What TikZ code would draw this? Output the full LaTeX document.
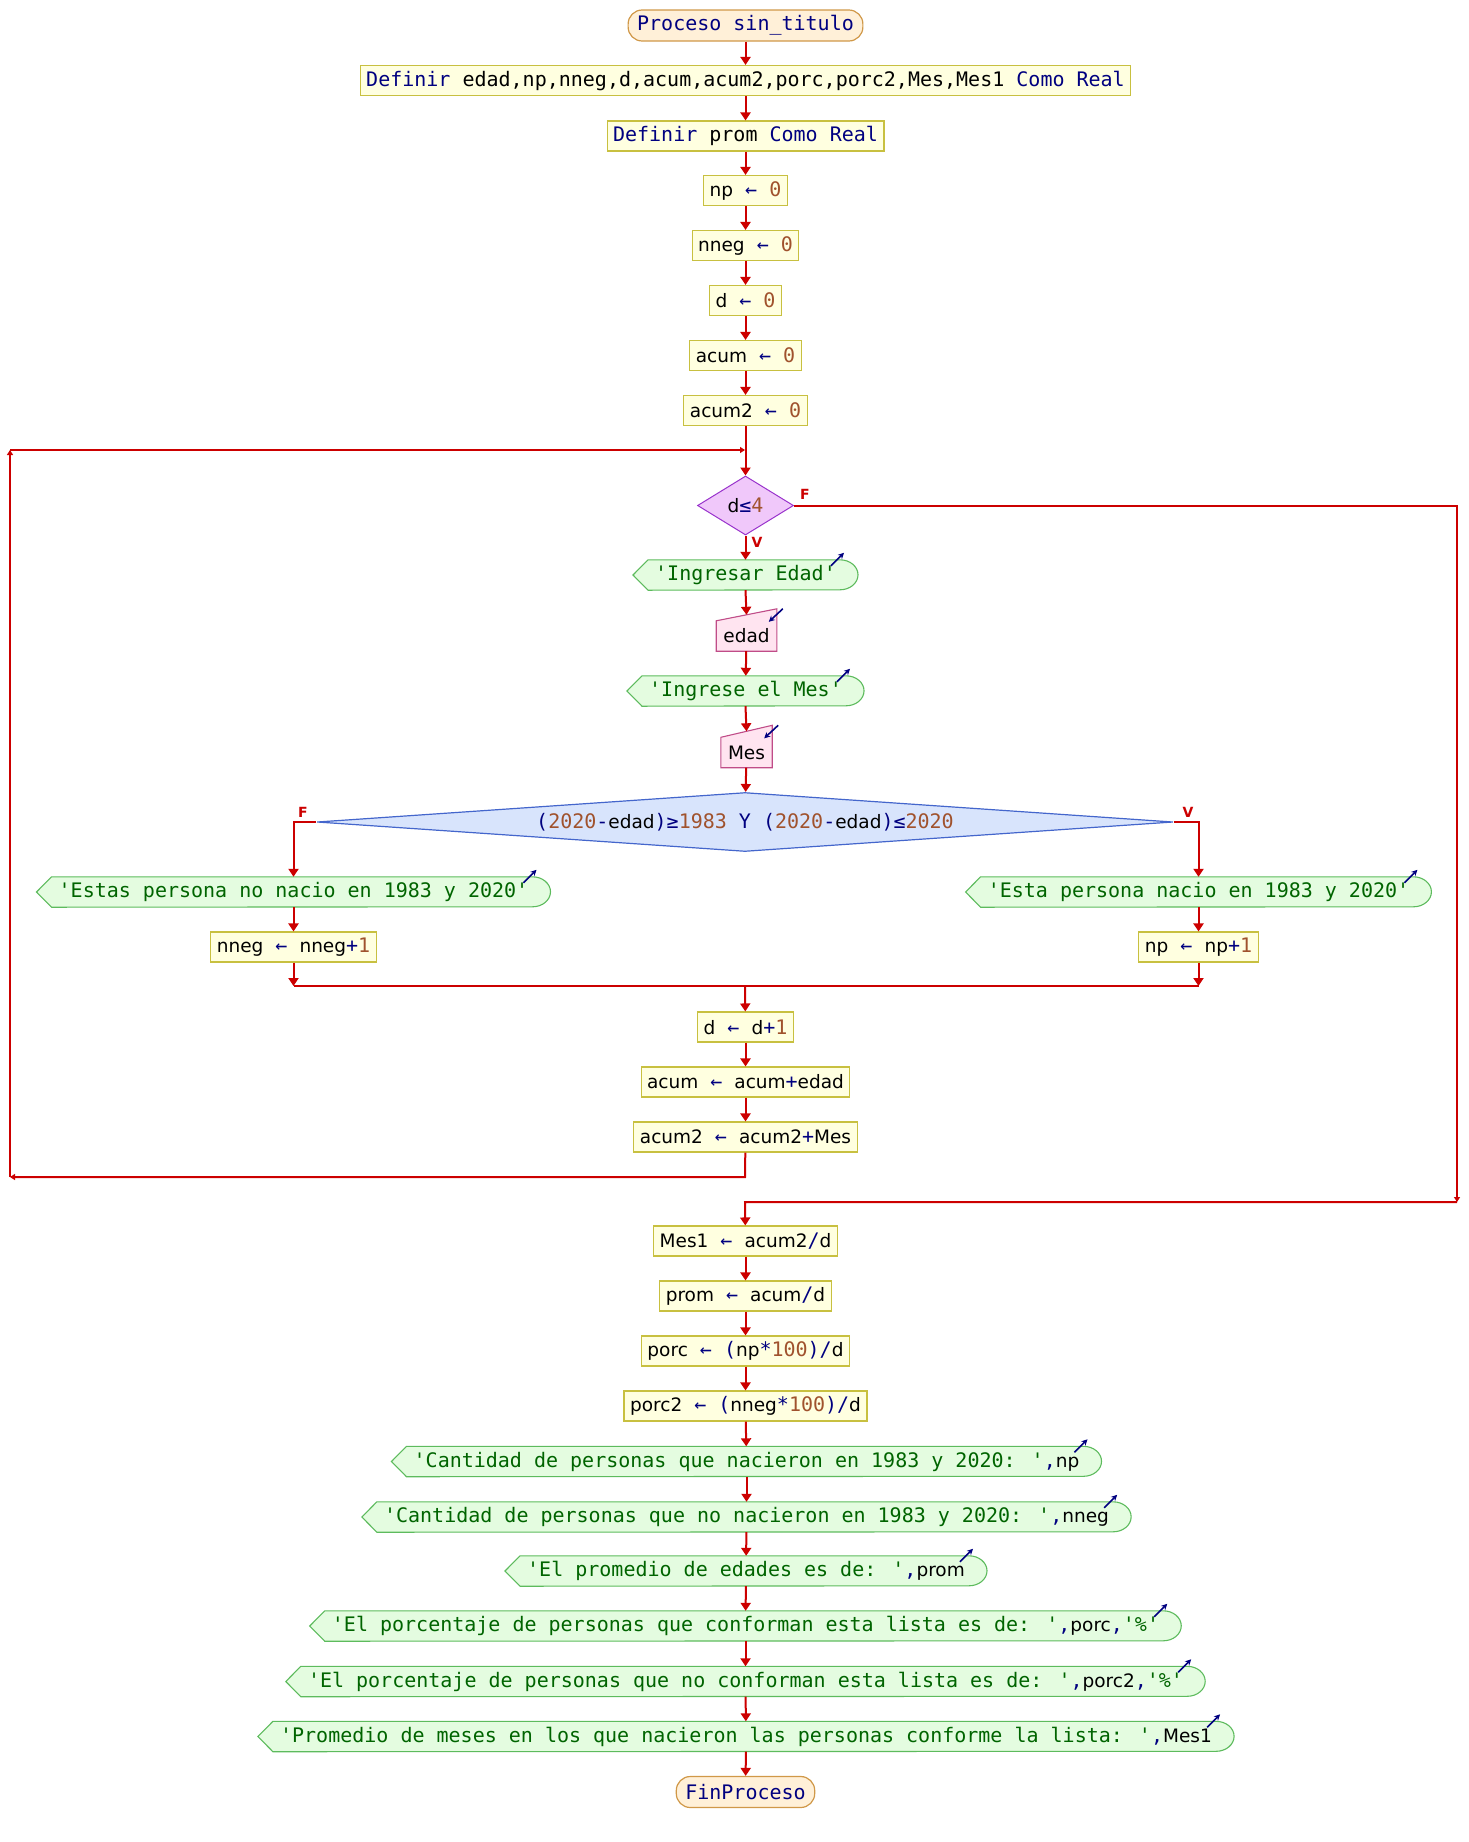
\documentclass[tikz,border=0pt]{standalone}
\usepackage{fontspec}
\usetikzlibrary{shapes.geometric,arrows.meta,backgrounds}
\newfontfamily\monof{DejaVu Sans Mono}[Ligatures=TeXOff]
\newfontfamily\idf{DejaVu Sans}[Ligatures=TeXOff]
\newfontfamily\lblf{DejaVu Sans}

\definecolor{procfill}{HTML}{FFFFE0}
\definecolor{procdraw}{HTML}{C8C040}
\definecolor{termfill}{HTML}{FFF0D8}
\definecolor{termdraw}{HTML}{D09848}
\definecolor{arrowred}{HTML}{CC0000}
\definecolor{diaAfill}{HTML}{F0C8FA}
\definecolor{diaAdraw}{HTML}{9933CC}
\definecolor{diaBfill}{HTML}{D8E4FC}
\definecolor{diaBdraw}{HTML}{4466CC}
\definecolor{outfill}{HTML}{E4FCE0}
\definecolor{outdraw}{HTML}{5DBB5D}
\definecolor{infill}{HTML}{FFE4F0}
\definecolor{indraw}{HTML}{C04C88}
\definecolor{kwc}{HTML}{000080}
\definecolor{numc}{HTML}{A0522D}
\definecolor{strc}{HTML}{006400}

% token colouring
\newcommand\txkw[1]{{\monof\color{kwc}#1}}
\newcommand\txid[1]{{\idf\fontsize{18.5}{24}\selectfont\color{black}#1}}
\newcommand\txnum[1]{{\monof\color{numc}#1}}
\newcommand\txstr[1]{{\monof\color{strc}#1}}
\newcommand\txpl[1]{{\monof\color{black}#1}}

% output block: arrow-pointed left side, rounded right side
\newcommand\outnode[3]{%
  \node[outtxt] (#1) at (#2) {#3};
  \begin{scope}[on background layer]
    \path[outshape] (#1.west) -- ([xshift=15pt]#1.north west) -- ([xshift=-18pt]#1.north east)
      arc[start angle=90,end angle=-90,x radius=18pt,y radius=15pt]
      -- ([xshift=15pt]#1.south west) -- cycle;
  \end{scope}
  \draw[icon] ([xshift=-27pt,yshift=-6pt]#1.north east) -- ([xshift=-14pt,yshift=7pt]#1.north east);
}
% input block: slanted top edge
\newcommand\innode[3]{%
  \node[intxt] (#1) at (#2) {#3};
  \begin{scope}[on background layer]
    \path[inshape] (#1.south west) -- (#1.north west) -- ([yshift=12pt]#1.north east)
      -- (#1.south east) -- cycle;
  \end{scope}
  \draw[icon] ([xshift=6pt,yshift=12pt]#1.north east) -- ([xshift=-8pt,yshift=-1pt]#1.north east);
}

\begin{document}
\begin{tikzpicture}[x=1pt,y=1pt,
  every node/.style={font=\monof\fontsize{20}{24}\selectfont},
  procbox/.style={draw=procdraw, fill=procfill, line width=1.1pt, minimum height=30pt,
    inner xsep=6pt, inner ysep=0pt},
  termbox/.style={draw=termdraw, fill=termfill, line width=1.2pt, rounded corners=14pt,
    minimum height=31pt, inner xsep=9pt, inner ysep=0pt, text=kwc},
  outtxt/.style={minimum height=30pt, inner xsep=22pt, inner ysep=0pt},
  outshape/.style={draw=outdraw, fill=outfill, line width=1.1pt},
  intxt/.style={minimum height=30pt, inner xsep=7pt, inner ysep=0pt},
  inshape/.style={draw=indraw, fill=infill, line width=1.1pt},
  flow/.style={draw=arrowred, line width=2pt, -{Triangle[width=10pt,length=8pt]}},
  wire/.style={draw=arrowred, line width=2pt},
  tinytip/.style={draw=arrowred, line width=2pt, -{Triangle[width=6pt,length=5pt]}},
  branchlbl/.style={font=\lblf\bfseries\fontsize{14}{14}\selectfont, text=arrowred, inner sep=0pt},
  icon/.style={draw=kwc, line width=1.6pt, -{Stealth[width=6pt,length=6pt]}},
]
\useasboundingbox (0,0) rectangle (1468,-1842);

% ---- initialisation
\node[termbox] (start) at (745.5,-25.5) {Proceso sin\_titulo};
\node[procbox] (def1) at (745.5,-80.5) {\txkw{Definir} \txpl{edad,np,nneg,d,acum,acum2,porc,porc2,Mes,Mes1} \txkw{Como Real}};
\node[procbox] (def2) at (745.5,-136) {\txkw{Definir} \txpl{prom} \txkw{Como Real}};
\node[procbox] (np0) at (745.5,-190.5) {\txid{np} \txkw{←} \txnum{0}};
\node[procbox] (nneg0) at (745.5,-245.5) {\txid{nneg} \txkw{←} \txnum{0}};
\node[procbox] (d0) at (745.5,-300.5) {\txid{d} \txkw{←} \txnum{0}};
\node[procbox] (acum0) at (745.5,-355.5) {\txid{acum} \txkw{←} \txnum{0}};
\node[procbox] (acumB0) at (745.5,-410.5) {\txid{acum2} \txkw{←} \txnum{0}};

% ---- loop body
\node[draw=diaAdraw, fill=diaAfill, shape=diamond, aspect=1.6, minimum width=96pt,
  minimum height=59pt, inner sep=0pt, line width=1pt] (cond1) at (745.5,-505.5)
  {\txid{d}\txkw{≤}\txnum{4}};
\outnode{outEdad}{745.5,-575}{\txstr{'Ingresar Edad'}}
\innode{inEdad}{746.5,-636}{\txid{edad}}
\outnode{outMes}{745.5,-691}{\txstr{'Ingrese el Mes'}}
\innode{inMes}{746.5,-752.5}{\txid{Mes}}
\node[draw=diaBdraw, fill=diaBfill, shape=diamond, aspect=14.5, minimum width=856pt,
  minimum height=59pt, inner sep=0pt, line width=1.2pt] (cond2) at (745,-822)
  {\txkw{(}\txnum{2020}\txkw{-}\txid{edad}\txkw{)≥}\txnum{1983} \txkw{Y} \txkw{(}\txnum{2020}\txkw{-}\txid{edad}\txkw{)≤}\txnum{2020}};
\outnode{outNo}{293.5,-892}{\txstr{'Estas persona no nacio en 1983 y 2020'}}
\outnode{outYes}{1198.5,-892}{\txstr{'Esta persona nacio en 1983 y 2020'}}
\node[procbox] (nnegUpd) at (293.5,-947) {\txid{nneg} \txkw{←} \txid{nneg}\txkw{+}\txnum{1}};
\node[procbox] (npUpd) at (1198.5,-947) {\txid{np} \txkw{←} \txid{np}\txkw{+}\txnum{1}};
\node[procbox] (dUpd) at (745.5,-1027) {\txid{d} \txkw{←} \txid{d}\txkw{+}\txnum{1}};
\node[procbox] (acumUpd) at (745.5,-1082) {\txid{acum} \txkw{←} \txid{acum}\txkw{+}\txid{edad}};
\node[procbox] (acumBUpd) at (745.5,-1137) {\txid{acum2} \txkw{←} \txid{acum2}\txkw{+}\txid{Mes}};

% ---- results
\node[procbox] (mesUno) at (745.5,-1241) {\txid{Mes1} \txkw{←} \txid{acum2}\txkw{/}\txid{d}};
\node[procbox] (promA) at (745.5,-1296) {\txid{prom} \txkw{←} \txid{acum}\txkw{/}\txid{d}};
\node[procbox] (porcA) at (745.5,-1351) {\txid{porc} \txkw{←} \txkw{(}\txid{np}\txkw{*}\txnum{100}\txkw{)/}\txid{d}};
\node[procbox] (porcB) at (745.5,-1406) {\txid{porc2} \txkw{←} \txkw{(}\txid{nneg}\txkw{*}\txnum{100}\txkw{)/}\txid{d}};
\outnode{outA}{746.5,-1461.5}{\txstr{'Cantidad de personas que nacieron en 1983 y 2020: '}\txkw{,}\txid{np}}
\outnode{outB}{746.5,-1517}{\txstr{'Cantidad de personas que no nacieron en 1983 y 2020: '}\txkw{,}\txid{nneg}}
\outnode{outC}{746,-1571}{\txstr{'El promedio de edades es de: '}\txkw{,}\txid{prom}}
\outnode{outD}{745.5,-1626}{\txstr{'El porcentaje de personas que conforman esta lista es de: '}\txkw{,}\txid{porc}\txkw{,}\txstr{'\%'}}
\outnode{outE}{745.5,-1681.5}{\txstr{'El porcentaje de personas que no conforman esta lista es de: '}\txkw{,}\txid{porc2}\txkw{,}\txstr{'\%'}}
\outnode{outF}{746,-1736.5}{\txstr{'Promedio de meses en los que nacieron las personas conforme la lista: '}\txkw{,}\txid{Mes1}}
\node[termbox] (fin) at (745.5,-1792) {FinProceso};

% ---- branch labels
\node[branchlbl] (lblFa) at (805,-494) {F};
\node[branchlbl] (lblVa) at (757,-542) {V};
\node[branchlbl] (lblFb) at (303,-812) {F};
\node[branchlbl] (lblVb) at (1188,-812) {V};

% ---- routing points
\coordinate (lpA) at (745,-1177);
\coordinate (lpB) at (10,-1177);
\coordinate (lpC) at (10,-450);
\coordinate (lpD) at (745,-450);
\coordinate (exA) at (1457,-505.5);
\coordinate (exB) at (1457,-1202);
\coordinate (exC) at (745,-1202);
\coordinate (brF) at (293.5,-822);
\coordinate (brT) at (1198.5,-822);
\coordinate (mgL) at (293.5,-986);
\coordinate (mgR) at (1198.5,-986);
\coordinate (mgC) at (745,-986);

% ---- straight flow
\draw[flow] (start) -- (def1);
\draw[flow] (def1) -- (def2);
\draw[flow] (def2) -- (np0);
\draw[flow] (np0) -- (nneg0);
\draw[flow] (nneg0) -- (d0);
\draw[flow] (d0) -- (acum0);
\draw[flow] (acum0) -- (acumB0);
\draw[flow] (acumB0) -- (cond1);
\draw[flow] (cond1) -- (outEdad);
\draw[flow] (outEdad.south) -- ([yshift=6pt]inEdad.north);
\draw[flow] (inEdad) -- (outMes);
\draw[flow] (outMes.south) -- ([yshift=6pt]inMes.north);
\draw[flow] (inMes) -- (cond2);

% ---- if / else
\draw[flow] (cond2.west) -- (brF) -- (outNo);
\draw[flow] (cond2.east) -- (brT) -- (outYes);
\draw[flow] (outNo) -- (nnegUpd);
\draw[flow] (outYes) -- (npUpd);
\draw[flow] (nnegUpd) -- (mgL);
\draw[flow] (npUpd) -- (mgR);
\draw[wire] (mgL) -- (mgR);
\draw[flow] (mgC) -- (dUpd);
\draw[flow] (dUpd) -- (acumUpd);
\draw[flow] (acumUpd) -- (acumBUpd);

% ---- loop back
\draw[tinytip] (acumBUpd) -- (lpA) -- (lpB);
\draw[tinytip] (lpB) -- (lpC);
\draw[tinytip] (lpC) -- (lpD);

% ---- loop exit
\draw[tinytip] (cond1.east) -- (exA) -- (exB);
\draw[flow] (exB) -- (exC) -- (mesUno);

% ---- results flow
\draw[flow] (mesUno) -- (promA);
\draw[flow] (promA) -- (porcA);
\draw[flow] (porcA) -- (porcB);
\draw[flow] (porcB) -- (outA);
\draw[flow] (outA) -- (outB);
\draw[flow] (outB) -- (outC);
\draw[flow] (outC) -- (outD);
\draw[flow] (outD) -- (outE);
\draw[flow] (outE) -- (outF);
\draw[flow] (outF) -- (fin);
\end{tikzpicture}
\end{document}
